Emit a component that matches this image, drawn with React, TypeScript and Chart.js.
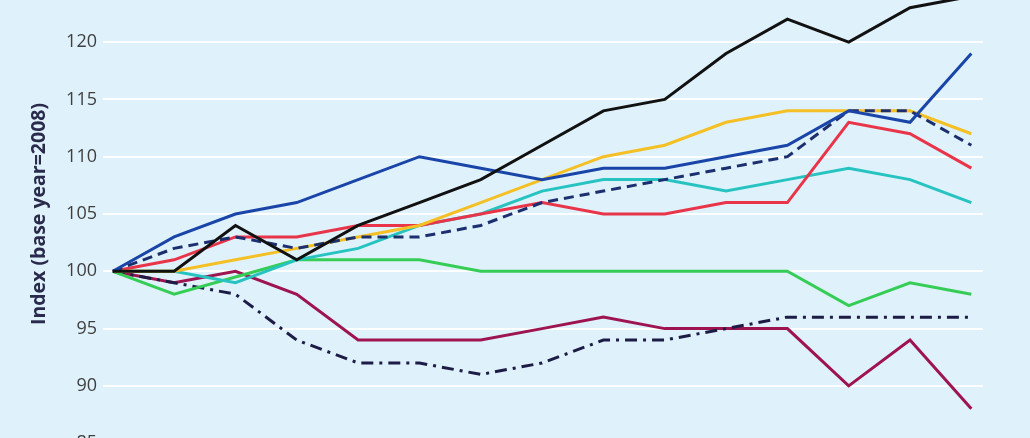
import React, { useEffect, useRef } from "react";
import { Chart, registerables } from "chart.js";

Chart.register(...registerables);

const years = [2008, 2009, 2010, 2011, 2012, 2013, 2014, 2015, 2016, 2017, 2018, 2019, 2020, 2021, 2022];

const blackSeries = [100, 100, 104, 101, 104, 106, 108, 111, 114, 115, 119, 122, 120, 123, 124];
const blueSeries = [100, 103, 105, 106, 108, 110, 109, 108, 109, 109, 110, 111, 114, 113, 119];
const navyDashedSeries = [100, 102, 103, 102, 103, 103, 104, 106, 107, 108, 109, 110, 114, 114, 111];
const yellowSeries = [100, 100, 101, 102, 103, 104, 106, 108, 110, 111, 113, 114, 114, 114, 112];
const redSeries = [100, 101, 103, 103, 104, 104, 105, 106, 105, 105, 106, 106, 113, 112, 109];
const cyanSeries = [100, 100, 99, 101, 102, 104, 105, 107, 108, 108, 107, 108, 109, 108, 106];
const greenSeries = [100, 98, 99.5, 101, 101, 101, 100, 100, 100, 100, 100, 100, 97, 99, 98];
const dashDotSeries = [100, 99, 98, 94, 92, 92, 91, 92, 94, 94, 95, 96, 96, 96, 96];
const maroonSeries = [100, 99, 100, 98, 94, 94, 94, 95, 96, 95, 95, 95, 90, 94, 88];

const yTitle = "Index (base year=2008)";

export default function App() {
  const ref = useRef<HTMLCanvasElement>(null);

  useEffect(() => {
    const mk = (label: string, data: number[], color: string, dash: number[] = []) => ({
      label,
      data: data.map((v, i) => ({ x: years[i], y: v })),
      borderColor: color,
      backgroundColor: color,
      borderWidth: 3,
      borderDash: dash,
      pointRadius: 0,
      fill: false,
      tension: 0,
    });
    const chart = new Chart(ref.current as HTMLCanvasElement, {
      type: "line",
      data: {
        datasets: [
          mk("black", blackSeries, "#111111"),
          mk("blue", blueSeries, "#1a45a8"),
          mk("navyDashed", navyDashedSeries, "#1c2f6e", [10, 6]),
          mk("yellow", yellowSeries, "#f4c025"),
          mk("red", redSeries, "#e8354a"),
          mk("cyan", cyanSeries, "#27c3c0"),
          mk("green", greenSeries, "#36cd57"),
          mk("dashDot", dashDotSeries, "#1d1c46", [12, 6, 3, 6]),
          mk("maroon", maroonSeries, "#9d1450"),
        ] as any,
      },
      options: {
        animation: false,
        responsive: false,
        devicePixelRatio: 1,
        layout: { padding: { left: 24, right: 47, top: 0, bottom: 0 } },
        plugins: { legend: { display: false }, tooltip: { enabled: false } },
        scales: {
          x: { type: "linear", min: 2007.84, max: 2022.19, display: false },
          y: {
            min: 85,
            max: 125,
            ticks: {
              stepSize: 5,
              padding: 6,
              color: "#3f3f3f",
              font: { family: "Open Sans", size: 18 },
            },
            grid: { color: "#ffffff", lineWidth: 2, drawTicks: false },
            border: { display: false },
            title: {
              display: true,
              text: yTitle,
              color: "#2a2a4c",
              font: { family: "Open Sans", size: 19.5, weight: "bold" },
            },
            afterFit: (s: any) => {
              s.width = 79;
            },
          },
        },
      } as any,
    });
    return () => chart.destroy();
  }, []);

  return (
    <div
      style={{
        position: "fixed",
        left: 0,
        top: 0,
        width: 1030,
        height: 438,
        overflow: "hidden",
        background: "#dff1fa",
      }}
    >
      <canvas
        ref={ref}
        width={1030}
        height={492}
        style={{ position: "absolute", left: 0, top: -32, width: 1030, height: 492 }}
      />
    </div>
  );
}
